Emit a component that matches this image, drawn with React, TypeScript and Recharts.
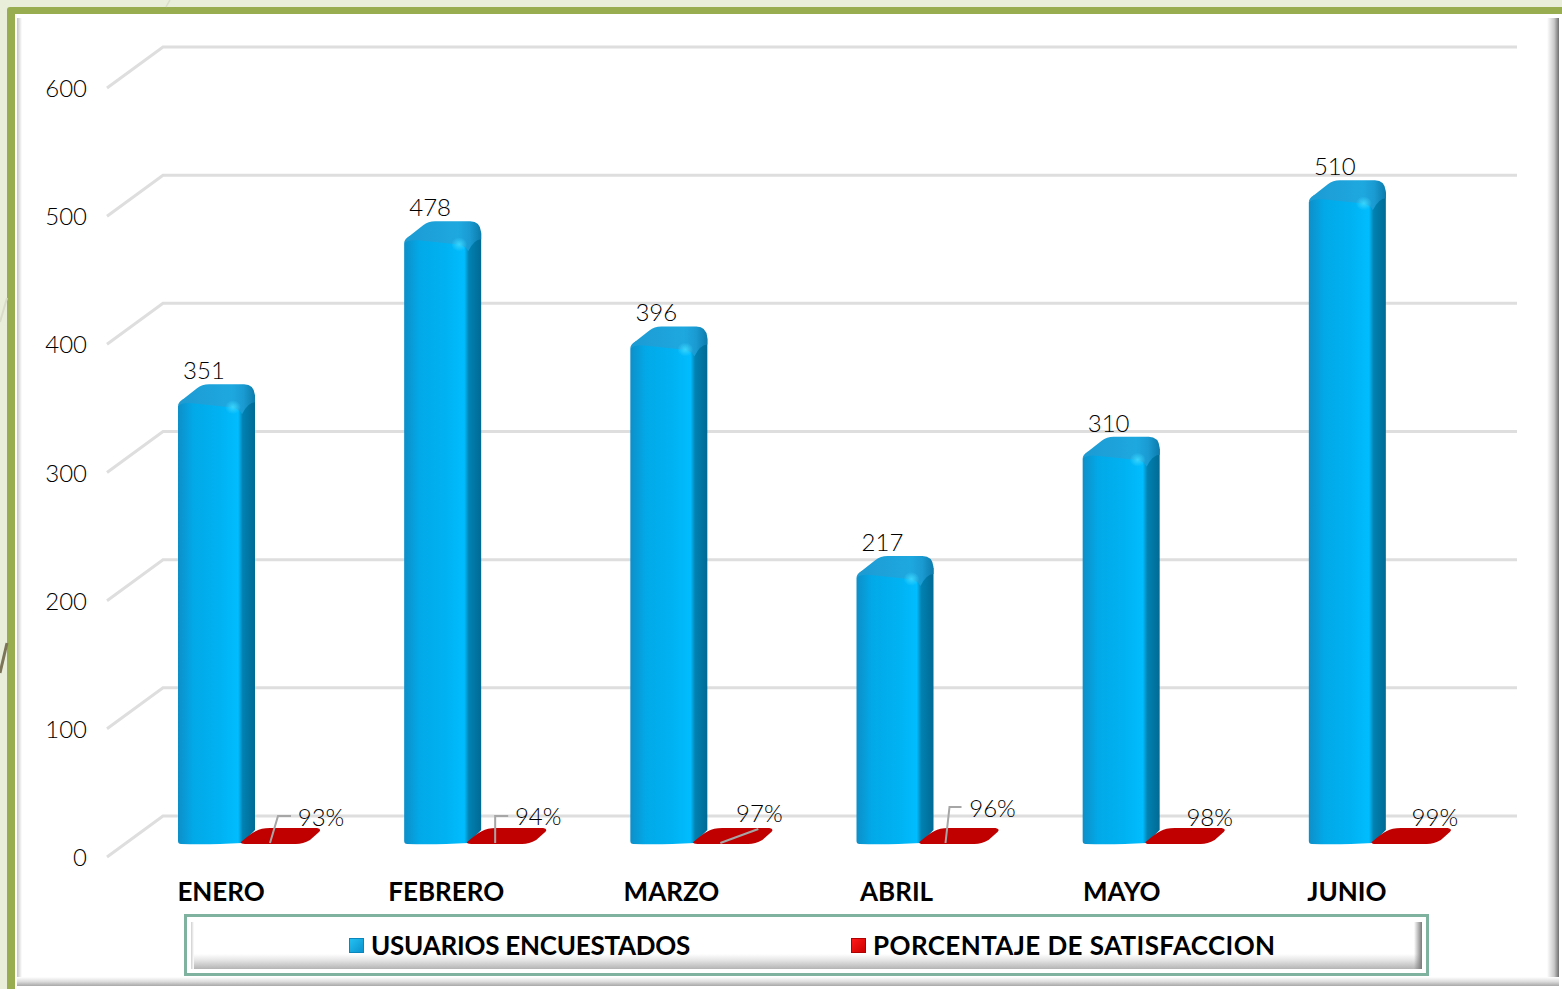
import React from "react";
import { Bar, BarChart, CartesianGrid, LabelList, Legend, XAxis, YAxis } from "recharts";

const MONTHS = ["ENERO", "FEBRERO", "MARZO", "ABRIL", "MAYO", "JUNIO"];
const USUARIOS = [351, 478, 396, 217, 310, 510];
const SATISFACCION = [0.93, 0.94, 0.97, 0.96, 0.98, 0.99];
const Y_TICKS = [0, 100, 200, 300, 400, 500, 600];

const data = MONTHS.map((mes, i) => ({
  mes,
  usuarios: USUARIOS[i],
  satisfaccion: SATISFACCION[i],
}));

const FONT = "Lato, 'Open Sans', sans-serif";

// hand placed data labels of the red series: text offset and leader line, from the bar's x
const PCT_LABELS = [
  { dx: 73, dy: -27, line: "22,-1 30,-28 43,-28" },
  { dx: 64, dy: -28, line: "21,-1 21,-28 34,-28" },
  { dx: 59, dy: -31, line: "20,-1 58,-15" },
  { dx: 66, dy: -36, line: "19,-1 23,-37 35,-37" },
  { dx: 57, dy: -27, line: "" },
  { dx: 56, dy: -27, line: "" },
];

function GridLine(props: any) {
  const { x1, x2, y1 } = props;
  return (
    <polyline
      points={`${x1 - 28},${y1 + 13} ${x1 + 28},${y1 - 28} ${x2 + 25},${y1 - 28}`}
      fill="none"
      stroke="#dedede"
      strokeWidth={3}
    />
  );
}

function BlueBar(props: any) {
  const { x, y, height } = props;
  const base = y + height;
  const body = `M${x},${y + 12} L${x + 5},${y + 5} L${x + 77},${y + 2} L${x + 77},${base - 14} L${x + 64},${base - 1}
    Q${x + 30},${base + 1} ${x + 3},${base} Q${x},${base} ${x},${base - 3} Z`;
  const top = `M${x},${y + 12} Q${x},${y + 8} ${x + 5},${y + 5} L${x + 19},${y - 6} Q${x + 24},${y - 10} ${x + 31},${y - 10}
    L${x + 66},${y - 10} Q${x + 76},${y - 10} ${x + 77},${y + 1} L${x + 77},${y + 8} Q${x + 70},${y + 8} ${x + 64},${y + 20}
    Q${x + 61},${y + 14} ${x + 52},${y + 13} L${x + 14},${y + 9} Q${x + 4},${y + 8} ${x},${y + 12} Z`;
  return (
    <g>
      <path d={body} fill="url(#bodyBlue)" />
      <path d={top} fill="url(#topBlue)" />
      <ellipse cx={x + 55} cy={y + 13} rx={8} ry={7} fill="url(#glintBlue)" />
    </g>
  );
}

function RedBar(props: any) {
  const { x, y, height } = props;
  const b = y + height;
  const d = `M${x - 7},${b - 2} Q${x + 2},${b - 10} ${x + 8},${b - 13} Q${x + 13},${b - 16} ${x + 22},${b - 16}
    L${x + 69},${b - 16} Q${x + 74},${b - 15} ${x + 71},${b - 12} L${x + 62},${b - 4} Q${x + 55},${b} ${x + 48},${b}
    L${x - 3},${b} Q${x - 8},${b} ${x - 7},${b - 2} Z`;
  return <path d={d} fill="#c00000" />;
}

function UsuariosLabel(props: any) {
  const { x, y, value } = props;
  return (
    <text x={x + 26} y={y - 15} textAnchor="middle" fontFamily={FONT} fontWeight={300} fontSize={24} fill="#000">
      {value}
    </text>
  );
}

function PctLabel(props: any) {
  const { x, y, height, value, index } = props;
  const b = y + height;
  const pos = PCT_LABELS[index];
  const pts = pos.line
    .split(" ")
    .filter(Boolean)
    .map((p: string) => {
      const [a, c] = p.split(",").map(Number);
      return `${x + a},${b + c}`;
    })
    .join(" ");
  return (
    <g>
      {pts && <polyline points={pts} fill="none" stroke="#a6a6a6" strokeWidth={2} />}
      <text x={x + pos.dx} y={b + pos.dy + 9} textAnchor="middle" fontFamily={FONT} fontWeight={300} fontSize={24} fill="#000">
        {Math.round(value * 100)}%
      </text>
    </g>
  );
}

function YTick(props: any) {
  const { y, payload } = props;
  return (
    <text x={87} y={y + 22} textAnchor="end" fontFamily={FONT} fontWeight={300} fontSize={24} fill="#000">
      {payload.value}
    </text>
  );
}

function XTick(props: any) {
  const { x, y, payload, index } = props;
  return (
    <text x={x - 27 - index} y={y + 49} textAnchor="middle" fontFamily={FONT} fontWeight={700} fontSize={26} fill="#000">
      {payload.value}
    </text>
  );
}

function LegendBox(props: any) {
  const { payload } = props;
  const lefts = [349, 851];
  const spacing = [-0.25, 0.4];
  return (
    <div style={{ position: "absolute", left: 184, top: 914, width: 1245, height: 62, boxSizing: "border-box", border: "3px solid #7fb3a0", background: "#fff" }}>
      <div style={{ position: "absolute", left: 4, top: 5, right: 4, bottom: 4, background: "linear-gradient(to bottom, #fff 0, #fff 68%, #e8e8e8 80%, #b4b4b4 100%)" }} />
      <div style={{ position: "absolute", left: 4, top: 5, width: 3, bottom: 4, background: "linear-gradient(to right, #cfcfcf, #fff)" }} />
      <div style={{ position: "absolute", right: 4, top: 5, width: 8, bottom: 4, background: "linear-gradient(to right, rgba(255,255,255,0), #7a7a7a)" }} />
      {(payload || []).map((p: any, i: number) => (
        <div key={p.value} style={{ position: "absolute", left: lefts[i] - 187, top: 12, height: 32, display: "flex", alignItems: "center", whiteSpace: "nowrap" }}>
          <span
            style={{
              width: 15,
              height: 15,
              marginRight: 7,
              display: "inline-block",
              background: i === 0 ? "linear-gradient(135deg,#23c0f2,#0b93cf)" : "linear-gradient(135deg,#ff1a1a,#cc0000)",
              border: i === 0 ? "1px solid #0a86bc" : "1px solid #b00000",
              boxSizing: "border-box",
            }}
          />
          <span style={{ fontFamily: FONT, fontWeight: 700, fontSize: 26, letterSpacing: spacing[i], color: "#000" }}>{p.value}</span>
        </div>
      ))}
    </div>
  );
}

export default function App() {
  return (
    <div style={{ position: "fixed", left: 0, top: 0, width: 1562, height: 989, background: "#e8eeda", overflow: "hidden" }}>
      {/* slide frame */}
      <div style={{ position: "absolute", left: 7, top: 7, width: 1600, height: 1000, background: "#97ad4f", borderRadius: 3 }} />
      <div style={{ position: "absolute", left: 15, top: 14, width: 1547, height: 975, background: "#fff" }} />
      <div style={{ position: "absolute", left: 17, top: 18, width: 5, height: 968, background: "linear-gradient(to right, #c4c4c4, #fff)" }} />
      <div style={{ position: "absolute", left: 1547, top: 18, width: 12, height: 968, background: "linear-gradient(to right, #fff, #c8c8c8 60%, #6f6f6f)" }} />
      <div style={{ position: "absolute", left: 17, top: 977, width: 1542, height: 9, background: "linear-gradient(to bottom, #fff, #ddd 50%, #a8a8a8)" }} />
      <svg width={180} height={989} style={{ position: "absolute", left: 0, top: 0 }}>
        <path d="M166,7 L170,0" stroke="#d9dcc8" strokeWidth={1.5} fill="none" />
        <path d="M0,322 L7,298" stroke="#d9dcc8" strokeWidth={2} fill="none" />
        <path d="M0,673 L7,643" stroke="#7d7558" strokeWidth={3} fill="none" />
      </svg>
      <div style={{ position: "absolute", left: 0, top: 0 }}>
        <BarChart
          width={1562}
          height={989}
          data={data}
          margin={{ top: 75, right: 70, bottom: 0, left: 0 }}
          barCategoryGap={43}
          barGap={0}
        >
          <defs>
            <linearGradient id="bodyBlue" x1="0" y1="0" x2="1" y2="0">
              <stop offset="0" stopColor="#0d8fc8" />
              <stop offset="0.2" stopColor="#02a9e8" />
              <stop offset="0.55" stopColor="#00b2f2" />
              <stop offset="0.78" stopColor="#00bdff" />
              <stop offset="0.84" stopColor="#0082b2" />
              <stop offset="1" stopColor="#006a94" />
            </linearGradient>
            <linearGradient id="topBlue" x1="0" y1="0" x2="1" y2="0">
              <stop offset="0" stopColor="#1d9ad2" />
              <stop offset="0.7" stopColor="#1ea8e0" />
              <stop offset="0.85" stopColor="#1a9bd2" />
              <stop offset="1" stopColor="#0c7bab" />
            </linearGradient>
            <radialGradient id="glintBlue">
              <stop offset="0" stopColor="#38d4fc" />
              <stop offset="1" stopColor="#38d4fc" stopOpacity={0} />
            </radialGradient>
          </defs>
          <CartesianGrid vertical={false} horizontal={(p: any) => <GridLine {...p} />} />
          <XAxis dataKey="mes" height={145} axisLine={false} tickLine={false} interval={0} tick={<XTick />} />
          <YAxis width={135} domain={[0, 600]} ticks={Y_TICKS} axisLine={false} tickLine={false} tick={<YTick />} />
          <Legend content={<LegendBox />} itemSorter={null} wrapperStyle={{ position: "static" }} />
          <Bar dataKey="usuarios" name="USUARIOS ENCUESTADOS" fill="#00b0f0" shape={<BlueBar />} isAnimationActive={false}>
            <LabelList dataKey="usuarios" content={<UsuariosLabel />} />
          </Bar>
          <Bar dataKey="satisfaccion" name="PORCENTAJE DE SATISFACCION" fill="#c00000" shape={<RedBar />} isAnimationActive={false}>
            <LabelList dataKey="satisfaccion" content={<PctLabel />} />
          </Bar>
        </BarChart>
      </div>
    </div>
  );
}
